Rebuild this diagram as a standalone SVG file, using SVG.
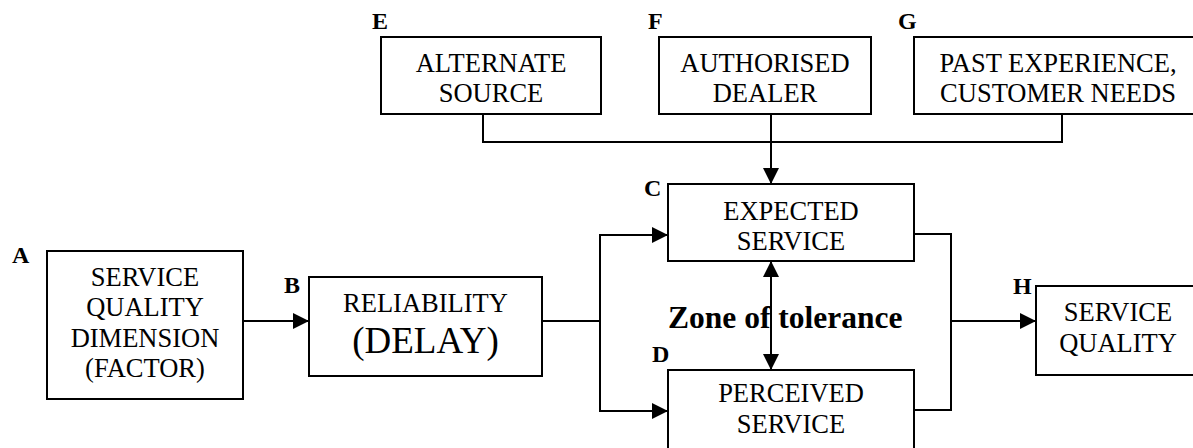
<svg xmlns="http://www.w3.org/2000/svg" width="1193" height="448" viewBox="0 0 1193 448">
<defs>
<style>
.box{fill:#fff;stroke:#000;stroke-width:2}
.t{font-family:"Liberation Serif","Times New Roman",serif;font-size:26.5px;text-anchor:middle;fill:#000}
.big{font-size:37px}
.lbl{font-family:"Liberation Serif","Times New Roman",serif;font-size:24px;font-weight:bold;fill:#000}
.zone{font-family:"Liberation Serif","Times New Roman",serif;font-size:31.5px;font-weight:bold;fill:#000}
.c{fill:none;stroke:#000;stroke-width:2}
</style>
<marker id="ah" viewBox="0 0 16 16" refX="16" refY="8" markerWidth="16" markerHeight="16" markerUnits="userSpaceOnUse" orient="auto-start-reverse">
<path d="M0,0 L16,8 L0,16 Z" fill="#000"/>
</marker>
</defs>
<rect width="1193" height="448" fill="#fff"/>
<g id="connectors">
<path class="c" d="M243,321 H309" marker-end="url(#ah)"/>
<path class="c" d="M542,321 H600"/>
<path class="c" d="M600,321 V235 H668" marker-end="url(#ah)"/>
<path class="c" d="M600,321 V411 H668" marker-end="url(#ah)"/>
<path class="c" d="M483,114 V142 H1062 V114"/>
<path class="c" d="M771,114 V184" marker-end="url(#ah)"/>
<path class="c" d="M771,261 V370" marker-start="url(#ah)" marker-end="url(#ah)"/>
<path class="c" d="M914,234 H951 V410 H914"/>
<path class="c" d="M951,321 H1036" marker-end="url(#ah)"/>
</g>
<g id="nodeA">
<rect class="box" x="47" y="251" width="196" height="148"/>
<text class="lbl" x="12" y="263">A</text>
<text class="t" x="145" y="286">SERVICE</text>
<text class="t" x="145" y="316">QUALITY</text>
<text class="t" x="145" y="347">DIMENSION</text>
<text class="t" x="145" y="377">(FACTOR)</text>
</g>
<g id="nodeB">
<rect class="box" x="309" y="277" width="233" height="99"/>
<text class="lbl" x="284" y="293">B</text>
<text class="t" x="425.5" y="312">RELIABILITY</text>
<text class="t big" x="425.5" y="353">(DELAY)</text>
</g>
<g id="nodeC">
<rect class="box" x="668" y="184" width="246" height="77"/>
<text class="lbl" x="644" y="196">C</text>
<text class="t" x="791" y="220">EXPECTED</text>
<text class="t" x="791" y="250">SERVICE</text>
</g>
<g id="nodeD">
<rect class="box" x="668" y="370" width="246" height="100"/>
<text class="lbl" x="652" y="362">D</text>
<text class="t" x="791" y="402">PERCEIVED</text>
<text class="t" x="791" y="433">SERVICE</text>
</g>
<g id="zone">
<text class="zone" x="668" y="328">Zone of tolerance</text>
</g>
<g id="nodeE">
<rect class="box" x="381" y="37" width="220" height="77"/>
<text class="lbl" x="372" y="29">E</text>
<text class="t" x="491" y="72">ALTERNATE</text>
<text class="t" x="491" y="102">SOURCE</text>
</g>
<g id="nodeF">
<rect class="box" x="659" y="37" width="212" height="77"/>
<text class="lbl" x="648" y="29">F</text>
<text class="t" x="765" y="72">AUTHORISED</text>
<text class="t" x="765" y="102">DEALER</text>
</g>
<g id="nodeG">
<rect class="box" x="914" y="37" width="290" height="77"/>
<text class="lbl" x="898" y="29">G</text>
<text class="t" x="1058" y="72">PAST EXPERIENCE,</text>
<text class="t" x="1058" y="102">CUSTOMER NEEDS</text>
</g>
<g id="nodeH">
<rect class="box" x="1036" y="286" width="170" height="89"/>
<text class="lbl" x="1013" y="294">H</text>
<text class="t" x="1118" y="321">SERVICE</text>
<text class="t" x="1118" y="352">QUALITY</text>
</g>
</svg>
